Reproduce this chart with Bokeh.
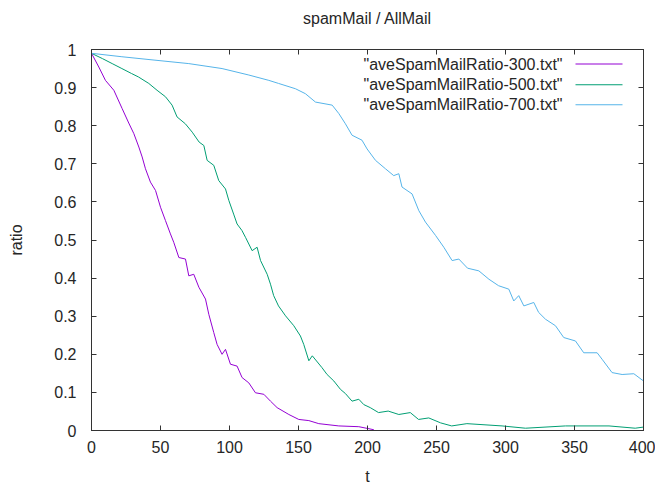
from bokeh.plotting import figure
from bokeh.models import LinearAxis, Range1d, Label, BoxAnnotation, FixedTicker, Title
from bokeh.embed import file_html
from bokeh.resources import INLINE

# ---- data ----
t300 = [0, 5.3, 10.1, 16.2, 22.2, 27, 30.7, 34.3, 36.7, 39.1, 42.7, 46.4, 50, 53.6, 57.2,
        59.6, 63.3, 68.1, 70.5, 74.1, 77.8, 82.6, 85, 88.6, 91, 94.6, 97.1, 100.7, 105.5,
        109.1, 114, 118.8, 124.9, 129.7, 134.5, 143, 150.2, 157.5, 164.7, 179.2, 193.7, 204.6]
v300 = [0.99, 0.954, 0.919, 0.893, 0.845, 0.807, 0.779, 0.744, 0.718, 0.687, 0.652, 0.630, 0.586,
        0.551, 0.516, 0.494, 0.454, 0.45, 0.406, 0.41, 0.376, 0.345, 0.305, 0.257, 0.226, 0.2,
        0.213, 0.174, 0.169, 0.139, 0.125, 0.099, 0.095, 0.077, 0.06, 0.042, 0.029, 0.026,
        0.018, 0.012, 0.01, 0.002]

t500 = [0, 8, 15, 22, 29, 34, 41.5, 47.5, 53.6, 58.4, 62, 68, 73, 78, 81.4, 83.8, 88.6, 92.2,
        97.1, 99.5, 103, 105.5, 109, 111.6, 116.4, 120, 122.5, 127.3, 129.7, 132, 135.5, 140.6,
        146.6, 151.4, 153.8, 157.5, 160, 167, 170.7, 175.6, 180.4, 184, 188.8, 193.7, 197.3,
        202, 208, 215, 222.7, 231, 237, 244.4, 253, 261, 272, 297.5, 314.5, 343.5, 375, 394, 400]
v500 = [0.99, 0.976, 0.963, 0.95, 0.937, 0.928, 0.911, 0.893, 0.876, 0.854, 0.823, 0.805, 0.783,
        0.757, 0.748, 0.709, 0.696, 0.656, 0.634, 0.604, 0.568, 0.542, 0.525, 0.507, 0.472, 0.481,
        0.446, 0.41, 0.384, 0.354, 0.327, 0.301, 0.275, 0.248, 0.226, 0.183, 0.196, 0.165, 0.147,
        0.13, 0.108, 0.097, 0.077, 0.082, 0.068, 0.06, 0.047, 0.051, 0.042, 0.047, 0.029, 0.033,
        0.02, 0.012, 0.018, 0.012, 0.006, 0.012, 0.012, 0.006, 0.009]

t700 = [0, 22, 46, 70.5, 94.6, 114, 128.5, 135.5, 147.8, 155, 162.3, 174.4, 179.2, 184, 188.8,
        196, 199.7, 205.8, 213, 219, 222.7, 225, 232.3, 237.2, 242, 249.3, 255.3, 261.3, 266.2,
        272.5, 280.7, 288, 295, 302.4, 306, 309.6, 313.3, 320.5, 324, 329, 336.2, 342.2, 350.7,
        356.7, 366.4, 370, 377.2, 384.5, 393, 400]
v700 = [0.99, 0.981, 0.972, 0.963, 0.95, 0.933, 0.919, 0.911, 0.897, 0.884, 0.862, 0.854, 0.832,
        0.805, 0.775, 0.762, 0.739, 0.709, 0.687, 0.669, 0.674, 0.639, 0.621, 0.577, 0.547, 0.512,
        0.481, 0.446, 0.45, 0.426, 0.419, 0.397, 0.38, 0.371, 0.34, 0.354, 0.327, 0.336, 0.31,
        0.292, 0.275, 0.244, 0.235, 0.204, 0.204, 0.187, 0.152, 0.147, 0.149, 0.13]

series_names = ['"aveSpamMailRatio-300.txt"', '"aveSpamMailRatio-500.txt"', '"aveSpamMailRatio-700.txt"']
series_colors = ["#9400d3", "#009e73", "#56b4e9"]

x_ticks = [0, 50, 100, 150, 200, 250, 300, 350, 400]
x_tick_labels = ["0", "50", "100", "150", "200", "250", "300", "350", "400"]
y_ticks = [0, 0.1, 0.2, 0.3, 0.4, 0.5, 0.6, 0.7, 0.8, 0.9, 1.0]
y_tick_labels = ["0", "0.1", "0.2", "0.3", "0.4", "0.5", "0.6", "0.7", "0.8", "0.9", "1"]

title_text = "spamMail / AllMail"
x_label = "t"
y_label = "ratio"

FONT = "Liberation Sans"
TXT = "#262626"
BORDER = "#333333"

p = figure(width=655, height=487, output_backend="svg", toolbar_location=None,
           x_range=Range1d(0, 400), y_range=Range1d(0, 1),
           min_border_left=91, min_border_right=12, min_border_top=0, min_border_bottom=56)
p.background_fill_color = "white"
p.border_fill_color = "white"
p.outline_line_color = BORDER
p.xgrid.visible = False
p.ygrid.visible = False

p.title = Title(text=title_text, align="center", text_font=FONT, text_font_size="16px",
                text_font_style="normal", text_color=TXT, standoff=15, offset=-3)

def style_axis(ax, ticks, labels, show_labels=True):
    ax.ticker = FixedTicker(ticks=ticks)
    ax.major_tick_in = 5
    ax.major_tick_out = 0
    ax.minor_tick_in = 0
    ax.minor_tick_out = 0
    ax.axis_line_color = BORDER
    ax.major_tick_line_color = BORDER
    ax.major_label_text_font = FONT
    ax.major_label_text_font_size = "16px"
    ax.major_label_text_color = TXT
    ax.axis_label_text_font = FONT
    ax.axis_label_text_font_size = "16px"
    ax.axis_label_text_font_style = "normal"
    ax.axis_label_text_color = TXT
    if show_labels:
        ax.major_label_overrides = {tk: lb for tk, lb in zip(ticks, labels)}
    else:
        ax.major_label_text_font_size = "0px"
        ax.major_label_text_color = None
        ax.major_label_standoff = 0

xa = p.xaxis[0]
style_axis(xa, x_ticks, x_tick_labels)
xa.major_label_standoff = 10
xa.axis_label = x_label
xa.axis_label_standoff = 12

ya = p.yaxis[0]
style_axis(ya, y_ticks, y_tick_labels)
ya.major_label_standoff = 15
ya.axis_label = y_label
ya.axis_label_standoff = 26

# mirrored ticks on top and right (gnuplot style)
top_ax = LinearAxis()
style_axis(top_ax, x_ticks, x_tick_labels, show_labels=False)
p.add_layout(top_ax, "above")
right_ax = LinearAxis()
style_axis(right_ax, y_ticks, y_tick_labels, show_labels=False)
p.add_layout(right_ax, "right")

# invisible spacer between the plot frame and the title
spacer = LinearAxis()
style_axis(spacer, x_ticks, x_tick_labels, show_labels=False)
spacer.major_tick_in = 0
spacer.major_tick_out = 15
spacer.major_tick_line_color = None
spacer.axis_line_color = None
p.add_layout(spacer, "above")

for tx, vy, c in zip([t300, t500, t700], [v300, v500, v700], series_colors):
    p.line(tx, vy, line_color=c, line_width=1)

# legend (text left, sample right, as in gnuplot); screen units relative to the frame
row_y = [366.4, 345.7, 325.7]
for name, c, ry in zip(series_names, series_colors, row_y):
    p.add_layout(Label(x=471, y=ry, x_units="screen", y_units="screen", text=name,
                       text_align="right", text_baseline="middle", text_font=FONT,
                       text_font_size="16px", text_color=TXT))
    p.add_layout(BoxAnnotation(left=484, right=531, top=ry + 0.5, bottom=ry - 0.5,
                               left_units="screen", right_units="screen",
                               top_units="screen", bottom_units="screen",
                               fill_color=c, fill_alpha=1, line_color=None))

open("out.html", "w").write(file_html(p, INLINE))
